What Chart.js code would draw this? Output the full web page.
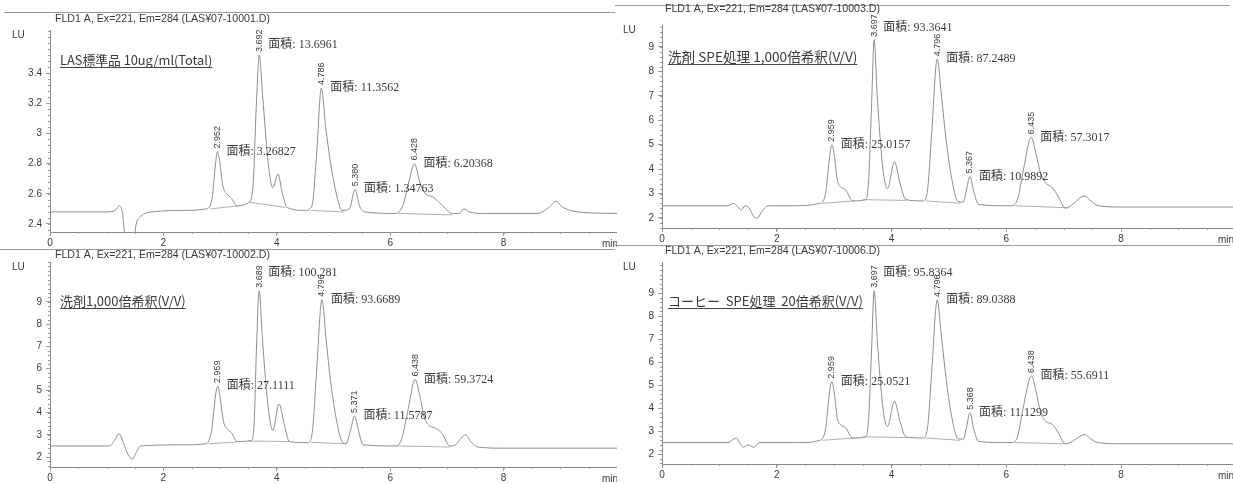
<!DOCTYPE html>
<html><head><meta charset="utf-8">
<script src="https://cdn.jsdelivr.net/npm/chart.js@4.4.1/dist/chart.umd.min.js"></script>
<style>
html,body{margin:0;padding:0;background:#fff;width:1233px;height:484px;overflow:hidden;position:relative}
canvas{position:absolute}
.sep{position:absolute;height:1px;background:#9a9a9a}
</style></head><body>
<div class="sep" style="left:4px;top:12px;width:611px"></div>
<div class="sep" style="left:615px;top:5px;width:615px"></div>
<div class="sep" style="left:0px;top:249px;width:615px"></div>
<div class="sep" style="left:615px;top:245px;width:615px"></div>
<canvas id="c1" width="617" height="250" style="left:0;top:0"></canvas>
<canvas id="c2" width="621" height="246" style="left:612px;top:0"></canvas>
<canvas id="c3" width="617" height="234" style="left:0;top:250px"></canvas>
<canvas id="c4" width="621" height="238" style="left:612px;top:246px"></canvas>
<script>
// ---------- data ----------
const xTicks = [0, 2, 4, 6, 8];
const yTicks1 = [2.4, 2.6, 2.8, 3, 3.2, 3.4];
const yTicksLU = [2, 3, 4, 5, 6, 7, 8, 9];

const fileTitles = [
  'FLD1 A, Ex=221, Em=284 (LAS¥07-10001.D)',
  'FLD1 A, Ex=221, Em=284 (LAS¥07-10003.D)',
  'FLD1 A, Ex=221, Em=284 (LAS¥07-10002.D)',
  'FLD1 A, Ex=221, Em=284 (LAS¥07-10006.D)'
];
const sampleNames = [
  'LAS標準品 10ug/ml(Total)',
  '洗剤 SPE処理 1,000倍希釈(V/V)',
  '洗剤1,000倍希釈(V/V)',
  'コーヒー  SPE処理  20倍希釈(V/V)'
];

// panel 1 : LAS standard
const time1 = [0,1.0,1.15,1.22,1.28,1.33,1.48,1.52,1.6,1.8,2.4,2.75,2.85,2.92,2.952,2.99,3.05,3.12,3.2,3.3,3.5,3.58,3.64,3.692,3.75,3.85,3.93,4.02,4.1,4.18,4.5,4.62,4.7,4.786,4.86,4.95,5.05,5.15,5.28,5.38,5.46,5.55,6.1,6.22,6.33,6.428,6.52,6.62,6.75,6.9,7.1,7.22,7.3,7.4,7.6,8.6,8.8,8.92,9.05,9.3,10];
const lu1   = [2.48,2.48,2.49,2.52,2.47,2.30,2.30,2.40,2.45,2.48,2.49,2.50,2.55,2.80,2.88,2.82,2.65,2.60,2.57,2.52,2.54,2.65,3.20,3.52,3.25,2.80,2.64,2.73,2.60,2.51,2.49,2.52,2.85,3.30,3.05,2.80,2.60,2.49,2.50,2.63,2.52,2.48,2.47,2.52,2.68,2.80,2.68,2.60,2.58,2.53,2.47,2.47,2.50,2.48,2.47,2.47,2.51,2.55,2.51,2.48,2.47];
const baseT1 = [2.83,3.32,null,3.5,4.15,null,4.6,5.18,null,6.15,7.1];
const baseV1 = [2.50,2.52,null,2.545,2.51,null,2.49,2.48,null,2.47,2.46];
const rt1 = ['2.952','3.692','4.786','5.380','6.428'];
const area1 = ['3.26827','13.6961','11.3562','1.34763','6.20368'];
const apex1 = [2.88,3.52,3.30,2.63,2.80];

// panel 2 : detergent SPE 1000x
const time2 = [0,1.15,1.25,1.32,1.38,1.45,1.52,1.6,1.66,1.75,1.85,2.3,2.75,2.85,2.92,2.959,3.0,3.06,3.13,3.2,3.32,3.55,3.6,3.65,3.697,3.75,3.85,3.93,4.05,4.15,4.25,4.55,4.63,4.7,4.796,4.87,4.95,5.05,5.15,5.25,5.3,5.367,5.43,5.52,6.1,6.2,6.3,6.435,6.52,6.6,6.7,6.8,6.9,7.03,7.15,7.3,7.37,7.45,7.6,8.0,10];
const lu2   = [2.5,2.5,2.6,2.45,2.32,2.5,2.4,2.05,2.0,2.3,2.5,2.5,2.6,3.0,4.5,5.0,4.6,3.5,3.25,3.15,2.7,2.75,3.5,6.5,9.3,7.0,4.0,3.2,4.3,3.4,2.75,2.7,3.2,5.5,8.5,7.0,5.2,3.6,2.7,2.65,3.1,3.7,3.1,2.55,2.5,2.8,4.0,5.3,4.6,3.8,3.4,3.25,2.9,2.4,2.55,2.85,2.9,2.75,2.5,2.45,2.45];
const baseT2 = [2.8,3.35,null,3.5,4.25,null,4.6,5.2,null,6.15,7.05];
const baseV2 = [2.6,2.7,null,2.75,2.72,null,2.7,2.6,null,2.5,2.42];
const rt2 = ['2.959','3.697','4.796','5.367','6.435'];
const area2 = ['25.0157','93.3641','87.2489','10.9892','57.3017'];
const apex2 = [5.0,9.3,8.5,3.7,5.3];

// panel 3 : detergent 1000x
const time3 = [0,1.05,1.15,1.22,1.3,1.38,1.45,1.52,1.6,2.4,2.75,2.85,2.92,2.959,3.0,3.06,3.13,3.2,3.3,3.55,3.6,3.64,3.689,3.75,3.85,3.93,4.04,4.13,4.22,4.55,4.63,4.7,4.796,4.87,4.95,5.05,5.15,5.22,5.3,5.371,5.44,5.52,6.1,6.2,6.32,6.438,6.52,6.6,6.7,6.8,6.92,7.05,7.15,7.25,7.33,7.42,7.55,8.0,10];
const lu3   = [2.5,2.5,2.8,3.05,2.6,2.1,1.9,2.2,2.5,2.55,2.6,3.2,4.8,5.2,4.7,3.6,3.25,3.1,2.7,2.75,3.5,6.8,9.5,7.2,4.2,3.2,4.4,3.5,2.7,2.65,3.2,5.8,9.1,7.3,5.4,3.7,2.7,2.6,3.2,3.85,3.2,2.55,2.5,2.8,4.2,5.5,4.8,3.8,3.4,3.3,3.05,2.5,2.55,2.85,3.0,2.7,2.45,2.4,2.4];
const baseT3 = [2.8,3.3,null,3.5,4.22,null,4.6,5.22,null,6.12,7.05];
const baseV3 = [2.6,2.68,null,2.72,2.7,null,2.66,2.6,null,2.5,2.45];
const rt3 = ['2.959','3.689','4.796','5.371','6.438'];
const area3 = ['27.1111','100.281','93.6689','11.5787','59.3724'];
const apex3 = [5.2,9.5,9.1,3.85,5.5];

// panel 4 : coffee SPE 20x
const time4 = [0,1.15,1.25,1.3,1.36,1.42,1.5,1.6,1.7,2.4,2.75,2.85,2.92,2.959,3.0,3.06,3.13,3.2,3.32,3.55,3.6,3.65,3.697,3.75,3.85,3.93,4.05,4.15,4.25,4.55,4.63,4.7,4.796,4.87,4.95,5.05,5.15,5.25,5.3,5.368,5.43,5.52,6.1,6.2,6.3,6.438,6.52,6.6,6.7,6.8,6.9,7.03,7.15,7.3,7.37,7.45,7.6,8.0,10];
const lu4   = [2.5,2.5,2.65,2.7,2.45,2.3,2.4,2.3,2.5,2.5,2.6,3.1,4.7,5.15,4.7,3.5,3.25,3.15,2.7,2.75,3.5,6.4,9.1,7.0,4.0,3.2,4.3,3.4,2.75,2.7,3.2,5.6,8.7,7.1,5.3,3.6,2.7,2.65,3.1,3.8,3.1,2.55,2.5,2.8,4.1,5.4,4.7,3.8,3.4,3.3,2.95,2.45,2.55,2.8,2.85,2.7,2.5,2.45,2.45];
const baseT4 = [2.8,3.35,null,3.5,4.25,null,4.6,5.2,null,6.15,7.05];
const baseV4 = [2.6,2.7,null,2.75,2.72,null,2.7,2.6,null,2.5,2.45];
const rt4 = ['2.959','3.697','4.796','5.368','6.438'];
const area4 = ['25.0521','95.8364','89.0388','11.1299','55.6911'];
const apex4 = [5.15,9.1,8.7,3.8,5.4];

// ---------- drawing ----------
const TXT = '#3a3a3a';
const annot = {
  id: 'annot',
  afterDatasetsDraw(chart, args, o) {
    const ctx = chart.ctx, xs = chart.scales.x, ys = chart.scales.y, ca = chart.chartArea;
    ctx.save();
    // minor ticks
    ctx.strokeStyle = '#9a9a9a'; ctx.lineWidth = 1;
    const yt = o.yTicks, ystep = (yt[1] - yt[0]) / 5;
    for (let v = yt[0] - 5 * ystep; v <= ys.max + 1e-9; v += ystep) {
      if (v < ys.min) continue;
      const py = Math.round(ys.getPixelForValue(v)) + 0.5;
      ctx.beginPath(); ctx.moveTo(ca.left - 2, py); ctx.lineTo(ca.left, py); ctx.stroke();
    }
    for (let v = 0; v <= xs.max; v += 0.5) {
      const px = Math.round(xs.getPixelForValue(v)) + 0.5;
      ctx.beginPath(); ctx.moveTo(px, ca.bottom); ctx.lineTo(px, ca.bottom + 2); ctx.stroke();
    }
    // titles
    ctx.fillStyle = TXT;
    ctx.textBaseline = 'middle'; ctx.textAlign = 'left';
    ctx.font = '10.6px "Liberation Sans", Arial, sans-serif';
    ctx.fillText(o.title, o.titleX, o.titleY);
    ctx.font = '10px "Liberation Sans", Arial, sans-serif';
    ctx.fillText('LU', o.luX, ca.top + 5);
    ctx.fillText('min', ca.right - 15, ca.bottom + 12);
    // sample name underlined
    ctx.font = o.sampleFont;
    ctx.fillText(o.sample, o.sampleX, ca.top + o.sampleDy);
    const w = ctx.measureText(o.sample).width;
    ctx.strokeStyle = '#444'; ctx.lineWidth = 1;
    ctx.beginPath(); ctx.moveTo(o.sampleX, ca.top + o.sampleDy + 7.5); ctx.lineTo(o.sampleX + w, ca.top + o.sampleDy + 7.5); ctx.stroke();
    // peak labels
    o.rt.forEach((r, i) => {
      const px = xs.getPixelForValue(parseFloat(r));
      const py = ys.getPixelForValue(o.apex[i]);
      ctx.save();
      ctx.translate(px, py - 3);
      ctx.rotate(-Math.PI / 2);
      ctx.font = '9px "Liberation Sans", Arial, sans-serif';
      ctx.textAlign = 'left'; ctx.textBaseline = 'middle';
      ctx.fillText(r, 0, 0);
      ctx.restore();
      ctx.font = '12px "Liberation Serif", "Noto Sans CJK JP", serif';
      ctx.textAlign = 'left'; ctx.textBaseline = 'middle';
      ctx.fillText('面積: ' + o.area[i], px + 9, py - (o.lift[i] || 0));
    });
    ctx.restore();
  }
};

function makeChart(id, t, v, bt, bv, yT, yMin, yMax, xMax, axisW, axisH, padTop, opts) {
  const pts = t.map((x, i) => ({x, y: v[i]}));
  const bpts = bt.map((x, i) => x === null ? {x: NaN, y: null} : {x, y: bv[i]});
  return new Chart(document.getElementById(id), {
    type: 'line',
    data: {datasets: [
      {data: pts, borderColor: '#8c8c8c', borderWidth: 1, pointRadius: 0, cubicInterpolationMode: 'monotone', fill: false},
      {data: bpts, borderColor: '#b0b0b0', borderWidth: 1, pointRadius: 0, spanGaps: false, fill: false}
    ]},
    options: {
      responsive: false, animation: false, devicePixelRatio: 1,
      layout: {padding: {top: padTop, left: 0, right: 0, bottom: 0}},
      plugins: {legend: {display: false}, tooltip: {enabled: false}, annot: opts},
      scales: {
        x: {type: 'linear', min: 0, max: xMax,
          afterBuildTicks: s => { s.ticks = xTicks.map(value => ({value})); },
          afterFit: s => { s.height = axisH; },
          ticks: {color: TXT, font: {size: 10, family: '"Liberation Sans", Arial'}, padding: 1, maxRotation: 0, autoSkip: false, callback: v => String(v)},
          grid: {drawOnChartArea: false, drawTicks: true, tickLength: 4, color: '#9a9a9a'},
          border: {display: true, color: '#8a8a8a', width: 1}},
        y: {type: 'linear', min: yMin, max: yMax,
          afterBuildTicks: s => { s.ticks = yT.map(value => ({value})); },
          afterFit: s => { s.width = axisW; },
          ticks: {color: TXT, font: {size: 10, family: '"Liberation Sans", Arial'}, padding: 4, autoSkip: false, callback: v => String(v)},
          grid: {drawOnChartArea: false, drawTicks: true, tickLength: 4, color: '#9a9a9a'},
          border: {display: true, color: '#8a8a8a', width: 1}}
      }
    },
    plugins: [annot]
  });
}

makeChart('c1', time1, lu1, baseT1, baseV1, yTicks1, 2.347, 3.685, 10.0, 50, 18, 30,
  {yTicks: yTicks1, title: fileTitles[0], titleX: 55, titleY: 19, luX: 12, sample: sampleNames[0], sampleX: 60, sampleDy: 30, sampleFont: '12.8px "Noto Sans CJK JP", sans-serif',
   rt: rt1, area: area1, apex: apex1, lift: [0, 10, 0, 0, 0]});
makeChart('c2', time2, lu2, baseT2, baseV2, yTicksLU, 1.59, 9.9, 9.95, 50, 18, 25,
  {yTicks: yTicksLU, title: fileTitles[1], titleX: 53, titleY: 9, luX: 11, sample: sampleNames[1], sampleX: 56, sampleDy: 32, sampleFont: '13.6px "Noto Sans CJK JP", sans-serif',
   rt: rt2, area: area2, apex: apex2, lift: [0, 12, 0, 0, 0]});
makeChart('c3', time3, lu3, baseT3, baseV3, yTicksLU, 1.55, 10.8, 10.0, 50, 17, 12,
  {yTicks: yTicksLU, title: fileTitles[2], titleX: 55, titleY: 5, luX: 12, sample: sampleNames[2], sampleX: 60, sampleDy: 39, sampleFont: '13px "Noto Sans CJK JP", sans-serif',
   rt: rt3, area: area3, apex: apex3, lift: [0, 18, 0, 0, 0]});
makeChart('c4', time4, lu4, baseT4, baseV4, yTicksLU, 1.57, 10.35, 9.95, 50, 20, 16,
  {yTicks: yTicksLU, title: fileTitles[3], titleX: 53, titleY: 5, luX: 11, sample: sampleNames[3], sampleX: 56, sampleDy: 39, sampleFont: '13px "Noto Sans CJK JP", sans-serif',
   rt: rt4, area: area4, apex: apex4, lift: [0, 18, 0, 0, 0]});
</script>
</body></html>
